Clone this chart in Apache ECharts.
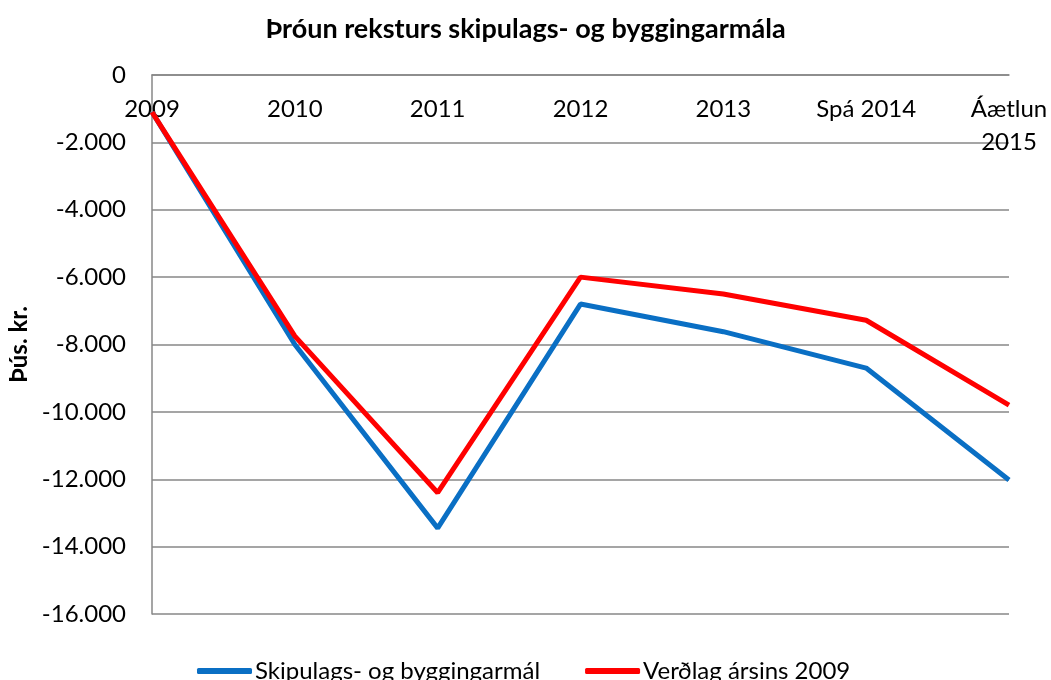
<!DOCTYPE html>
<html>
<head>
<meta charset="utf-8">
<script src="https://cdn.jsdelivr.net/npm/echarts@6/dist/echarts.min.js"></script>
<style>
  html, body { margin: 0; padding: 0; background: #fff; }
  #main { width: 1051px; height: 680px; }
</style>
</head>
<body>
<div id="main"></div>
<script>
var years = ['2009', '2010', '2011', '2012', '2013', 'Spá 2014', 'Áætlun\n2015'];
var skipulag = [-1100, -8000, -13450, -6800, -7620, -8700, -12020];
var verdlag2009 = [-1100, -7750, -12400, -6000, -6500, -7280, -9800];
var yTicks = [0, -2000, -4000, -6000, -8000, -10000, -12000, -14000, -16000];

var font = 'Lato, "Open Sans", sans-serif';
var grey = '#878787';

// punktur sem þúsundaskil
var fmt = function(v) {
    var s = String(Math.abs(v)).replace(/\B(?=(\d{3})+(?!\d))/g, '.');
    return (v < 0 ? '-' : '') + s;
};

var myChart = echarts.init(document.getElementById('main'));
myChart.setOption({
    animation: false,
    backgroundColor: '#fff',
    title: {
        text: 'Þróun reksturs skipulags- og byggingarmála',
        left: 'center',
        top: 11,
        textStyle: { fontFamily: font, fontSize: 27, fontWeight: 'bold', color: '#000' }
    },
    legend: {
        left: 192,
        top: 654,
        itemWidth: 55,
        itemHeight: 6,
        itemGap: 45,
        icon: 'roundRect',
        textStyle: { fontFamily: font, fontSize: 24, color: '#000', padding: [0, 0, 0, -2] },
        data: ['Skipulags- og byggingarmál', 'Verðlag ársins 2009']
    },
    grid: { left: 152, right: 42, top: 75, bottom: 66, containLabel: false, outerBoundsMode: 'none' },
    xAxis: {
        type: 'category',
        data: years,
        position: 'top',
        boundaryGap: false,
        axisLine: { lineStyle: { color: grey, width: 1.5 } },
        axisTick: { show: false },
        axisLabel: {
            inside: true,
            margin: 18,
            lineHeight: 33,
            interval: 0,
            color: '#000',
            fontFamily: font,
            fontSize: 24
        },
        splitLine: { show: false }
    },
    yAxis: {
        type: 'value',
        min: yTicks[yTicks.length - 1],
        max: yTicks[0],
        interval: 2000,
        name: 'Þús. kr.',
        nameLocation: 'middle',
        nameRotate: 90,
        nameGap: 118,
        nameTextStyle: { fontFamily: font, fontSize: 24, fontWeight: 'bold', color: '#000' },
        axisLine: { show: true, lineStyle: { color: grey, width: 1.5 } },
        axisTick: { show: false },
        axisLabel: {
            color: '#000',
            fontFamily: font,
            fontSize: 24,
            margin: 26,
            formatter: fmt
        },
        splitLine: { lineStyle: { color: grey, width: 1.5 } }
    },
    series: [{
        name: 'Skipulags- og byggingarmál',
        type: 'line',
        data: skipulag,
        symbol: 'none',
        color: '#0a6fc4',
        lineStyle: { width: 5, color: '#0a6fc4' }
    }, {
        name: 'Verðlag ársins 2009',
        type: 'line',
        data: verdlag2009,
        symbol: 'none',
        color: '#ff0000',
        lineStyle: { width: 5, color: '#ff0000' }
    }]
});
</script>
</body>
</html>
